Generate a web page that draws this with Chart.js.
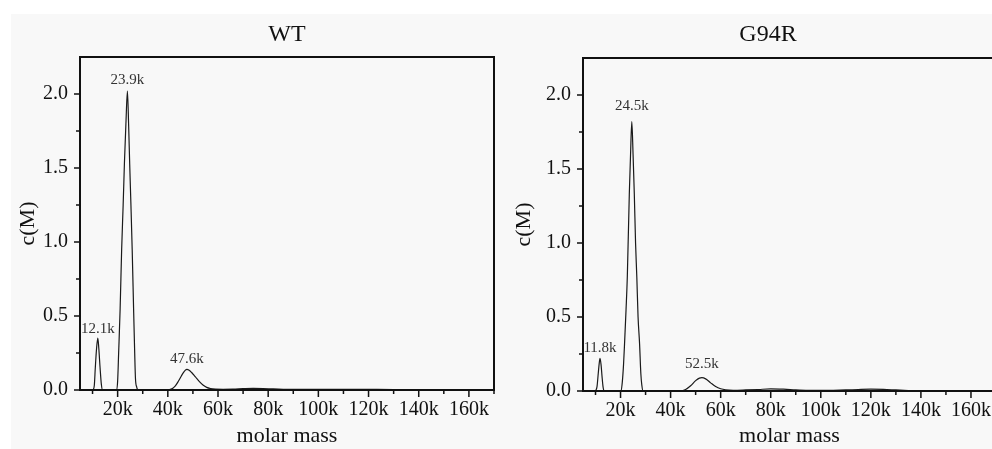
<!DOCTYPE html>
<html>
<head>
<meta charset="utf-8">
<script src="https://cdn.jsdelivr.net/npm/chart.js@4.4.0/dist/chart.umd.min.js"></script>
<style>
  html, body { margin: 0; padding: 0; width: 992px; height: 449px; overflow: hidden; background: #fff; }
  #sheet { position: absolute; left: 11px; top: 14px; right: 0; bottom: 0; background: #f8f8f8; }
  .panel { position: absolute; top: 0; width: 500px; height: 449px; }
  .title { position: absolute; top: 20px; line-height: 30px; font: 24px "Liberation Serif", serif; color: #111; transform: translateX(-50%); white-space: nowrap; }
</style>
</head>
<body>
<div id="sheet"></div>
<div class="panel" style="left:0px"><canvas id="wtChart" width="500" height="449"></canvas></div>
<div class="panel" style="left:500px"><canvas id="g94rChart" width="500" height="449"></canvas></div>
<div class="title" style="left:287px">WT</div>
<div class="title" style="left:768px">G94R</div>
<script>
// molar mass (k) and c(M)
const wtMass = [10.2, 10.7, 11.1, 11.6, 12.1, 12.5, 13.0, 13.5, 14.0,
  19.5, 20.0, 20.4, 21.0, 21.6, 22.2, 22.7, 23.3, 23.9, 24.4, 24.8, 25.3, 25.8, 26.4, 26.8, 27.1, 27.6, 28.2,
  40.0, 41.0, 42.0, 43.0, 44.0, 45.0, 46.0, 47.0, 47.6, 48.5, 49.5, 51.0, 52.5, 54.0, 55.5, 57.0, 59.0,
  62.0, 66.0, 70.0, 74.0, 78.0, 82.0, 86.0, 92.0, 100.0, 110.0, 120.0, 130.0, 140.0, 150.0];
const wtConc = [0, 0.03, 0.15, 0.28, 0.35, 0.28, 0.15, 0.04, 0,
  0, 0.06, 0.25, 0.55, 0.95, 1.25, 1.53, 1.8, 2.02, 1.78, 1.53, 1.25, 0.95, 0.52, 0.25, 0.08, 0.02, 0,
  0, 0.004, 0.012, 0.028, 0.053, 0.083, 0.112, 0.134, 0.14, 0.134, 0.118, 0.088, 0.058, 0.034, 0.018, 0.01, 0.006,
  0.005, 0.006, 0.009, 0.011, 0.01, 0.007, 0.005, 0.004, 0.004, 0.005, 0.004, 0.003, 0.003, 0.002];

const g94rMass = [10.0, 10.6, 11.1, 11.5, 11.8, 12.2, 12.6, 13.0, 13.4,
  20.2, 20.7, 21.2, 21.6, 22.2, 22.7, 23.5, 24.0, 24.5, 25.0, 25.5, 26.0, 26.5, 27.0, 27.6, 28.1, 28.5, 29.0,
  44.0, 46.0, 48.0, 50.0, 51.5, 52.5, 54.0, 56.0, 58.0, 60.0, 62.0, 65.0,
  70.0, 75.0, 80.0, 85.0, 90.0, 95.0, 100.0, 105.0, 110.0, 115.0, 120.0, 125.0, 130.0, 135.0, 138.0];
const g94rConc = [0, 0.03, 0.12, 0.19, 0.22, 0.18, 0.1, 0.03, 0,
  0, 0.06, 0.18, 0.32, 0.55, 0.77, 1.33, 1.6, 1.82, 1.6, 1.33, 1.0, 0.77, 0.5, 0.32, 0.12, 0.04, 0,
  0, 0.01, 0.035, 0.07, 0.087, 0.09, 0.082, 0.055, 0.03, 0.015, 0.008, 0.005,
  0.007, 0.01, 0.014, 0.012, 0.008, 0.005, 0.004, 0.005, 0.007, 0.01, 0.012, 0.011, 0.007, 0.003, 0];

// peak annotations
const wtPeakMass = [12.1, 23.9, 47.6];
const wtPeakConc = [0.35, 2.02, 0.14];
const g94rPeakMass = [11.8, 24.5, 52.5];
const g94rPeakConc = [0.22, 1.82, 0.09];

// axis ticks
const xTickValues = [20, 40, 60, 80, 100, 120, 140, 160];
const xMinorValues = [10, 30, 50, 70, 90, 110, 130, 150, 170];
const yTickValues = [0, 0.5, 1.0, 1.5, 2.0];
const yMinorValues = [0.25, 0.75, 1.25, 1.75];

const serif = '"Liberation Serif", "Times New Roman", serif';

// box around the plot plus outward major/minor tick marks
const framePlugin = {
  id: 'frame',
  afterDraw(chart) {
    const { ctx, chartArea: a, scales: { x, y } } = chart;
    ctx.save();
    ctx.strokeStyle = '#111';
    ctx.lineWidth = 2;
    ctx.strokeRect(a.left, a.top, a.right - a.left, a.bottom - a.top);
    ctx.lineWidth = 1.5;
    ctx.beginPath();
    xTickValues.forEach(v => { const px = x.getPixelForValue(v); ctx.moveTo(px, a.bottom); ctx.lineTo(px, a.bottom + 7); });
    xMinorValues.forEach(v => { const px = x.getPixelForValue(v); ctx.moveTo(px, a.bottom); ctx.lineTo(px, a.bottom + 4); });
    yTickValues.forEach(v => { const py = y.getPixelForValue(v); ctx.moveTo(a.left, py); ctx.lineTo(a.left - 6, py); });
    yMinorValues.forEach(v => { const py = y.getPixelForValue(v); ctx.moveTo(a.left, py); ctx.lineTo(a.left - 4, py); });
    ctx.stroke();
    ctx.restore();
  }
};

// molar mass written above each peak
const peakLabelPlugin = {
  id: 'peakLabels',
  afterDatasetsDraw(chart, args, opts) {
    const { ctx, scales: { x, y } } = chart;
    ctx.save();
    ctx.font = '15px ' + serif;
    ctx.fillStyle = '#333';
    ctx.textAlign = 'center';
    ctx.textBaseline = 'alphabetic';
    opts.mass.forEach((m, i) => {
      ctx.fillText(m.toFixed(1) + 'k', x.getPixelForValue(m), y.getPixelForValue(opts.conc[i]) - opts.gap[i]);
    });
    ctx.restore();
  }
};

function makeChart(canvasId, mass, conc, peakMass, peakConc, box) {
  const points = mass.map((m, i) => ({ x: m, y: conc[i] }));
  return new Chart(document.getElementById(canvasId), {
    type: 'line',
    data: {
      datasets: [{
        data: points,
        borderColor: '#1a1a1a',
        borderWidth: 1.2,
        pointRadius: 0,
        fill: false,
        cubicInterpolationMode: 'monotone'
      }]
    },
    options: {
      responsive: false,
      animation: false,
      events: [],
      layout: { padding: { left: 0, right: box.right, top: box.top, bottom: 0 } },
      plugins: {
        legend: { display: false },
        tooltip: { enabled: false },
        peakLabels: { mass: peakMass, conc: peakConc, gap: box.gaps }
      },
      scales: {
        x: {
          type: 'linear',
          min: 5,
          max: 170,
          afterBuildTicks: s => { s.ticks = xTickValues.map(v => ({ value: v })); },
          afterFit: s => { s.height = box.xHeight; },
          grid: { display: false, drawTicks: false },
          border: { display: false },
          ticks: {
            color: '#111',
            font: { family: serif, size: 20 },
            padding: 8,
            maxRotation: 0,
            callback: v => v + 'k'
          },
          title: {
            display: true,
            text: 'molar mass',
            color: '#111',
            font: { family: serif, size: 22 },
            padding: { top: 0, bottom: 0 }
          }
        },
        y: {
          min: 0,
          max: 2.25,
          afterBuildTicks: s => { s.ticks = yTickValues.map(v => ({ value: v })); },
          afterFit: s => { s.width = box.yWidth; },
          grid: { display: false, drawTicks: false },
          border: { display: false },
          ticks: {
            color: '#111',
            font: { family: serif, size: 20 },
            padding: 12,
            callback: v => v.toFixed(1)
          },
          title: {
            display: true,
            text: 'c(M)',
            color: '#111',
            font: { family: serif, size: 22 },
            padding: { top: box.yTitlePad, bottom: 0 }
          }
        }
      }
    },
    plugins: [framePlugin, peakLabelPlugin]
  });
}

makeChart('wtChart', wtMass, wtConc, wtPeakMass, wtPeakConc,
  { top: 57, right: 6, yWidth: 80, xHeight: 59, yTitlePad: 15, gaps: [5, 7, 6] });
makeChart('g94rChart', g94rMass, g94rConc, g94rPeakMass, g94rPeakConc,
  { top: 58, right: 4, yWidth: 83, xHeight: 58, yTitlePad: 11, gaps: [6, 12, 10] });
</script>
</body>
</html>
